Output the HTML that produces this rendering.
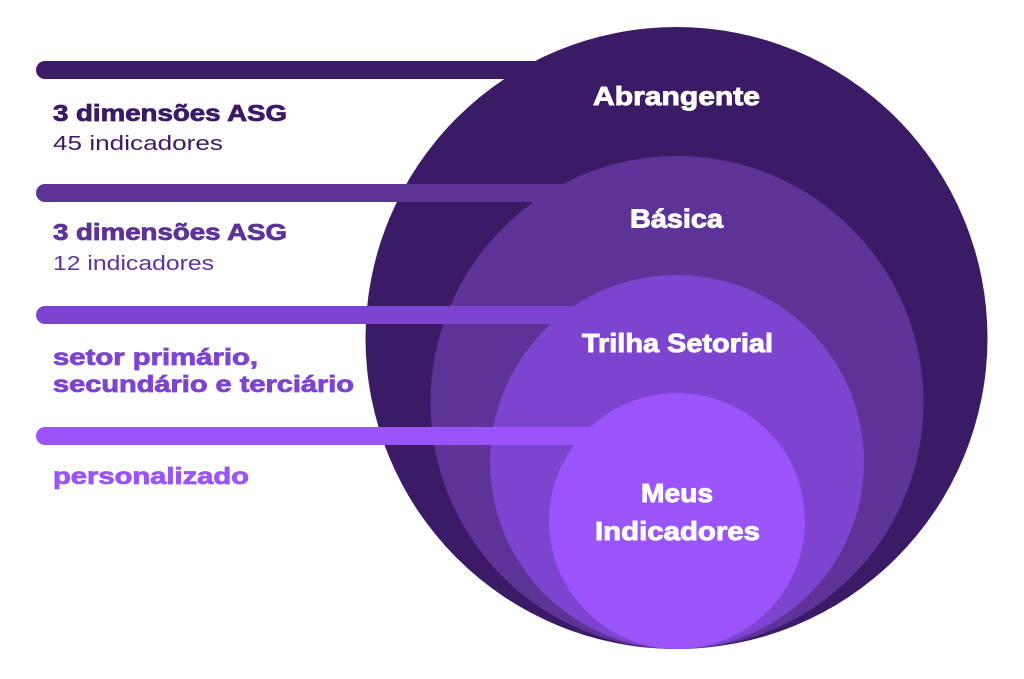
<!DOCTYPE html>
<html>
<head>
<meta charset="utf-8">
<style>
  html, body { margin: 0; padding: 0; background: #ffffff; }
  body { width: 1024px; height: 679px; overflow: hidden; }
  svg { display: block; }
  text { font-family: "Liberation Sans", Arial, sans-serif; }
</style>
</head>
<body>
<svg width="1024" height="679" viewBox="0 0 1024 679" xmlns="http://www.w3.org/2000/svg">
  <rect width="1024" height="679" fill="#ffffff"/>

  <!-- Outer circle + bar 1 -->
  <circle cx="676.5" cy="338" r="311" fill="#3b1a66"/>
  <rect x="36" y="61" width="620" height="18" rx="9" fill="#3b1a66"/>

  <!-- Second circle + bar 2 -->
  <circle cx="677" cy="402.5" r="246.5" fill="#5e3398"/>
  <rect x="36" y="184" width="620" height="18" rx="9" fill="#5e3398"/>

  <!-- Third circle + bar 3 -->
  <circle cx="677" cy="462" r="187" fill="#7d44cf"/>
  <rect x="36" y="306" width="620" height="18" rx="9" fill="#7d44cf"/>

  <!-- Fourth circle + bar 4 -->
  <circle cx="677" cy="521" r="128" fill="#9b54fa"/>
  <rect x="36" y="427" width="620" height="18" rx="9" fill="#9b54fa"/>

  <!-- Circle labels -->
  <g fill="#ffffff" stroke="#ffffff" stroke-width="0.9" font-weight="bold" font-size="26">
    <text x="593" y="105" textLength="167" lengthAdjust="spacingAndGlyphs">Abrangente</text>
    <text x="630" y="227.5" textLength="93" lengthAdjust="spacingAndGlyphs">Básica</text>
    <text x="582" y="352" textLength="191" lengthAdjust="spacingAndGlyphs">Trilha Setorial</text>
    <text x="641" y="502" textLength="72" lengthAdjust="spacingAndGlyphs">Meus</text>
    <text x="595" y="540" textLength="165" lengthAdjust="spacingAndGlyphs">Indicadores</text>
  </g>

  <!-- Left labels -->
  <text x="53" y="121" font-size="23" font-weight="bold" fill="#3b1a66" stroke="#3b1a66" stroke-width="0.8" textLength="234" lengthAdjust="spacingAndGlyphs">3 dimensões ASG</text>
  <text x="53" y="150" font-size="20" fill="#3b1a66" textLength="170" lengthAdjust="spacingAndGlyphs">45 indicadores</text>

  <text x="53" y="240" font-size="23" font-weight="bold" fill="#5e3398" stroke="#5e3398" stroke-width="0.8" textLength="234" lengthAdjust="spacingAndGlyphs">3 dimensões ASG</text>
  <text x="53" y="270" font-size="20" fill="#5e3398" textLength="161" lengthAdjust="spacingAndGlyphs">12 indicadores</text>

  <text x="53" y="365" font-size="23" font-weight="bold" fill="#7d44cf" stroke="#7d44cf" stroke-width="0.8" textLength="205" lengthAdjust="spacingAndGlyphs">setor primário,</text>
  <text x="53" y="392" font-size="23" font-weight="bold" fill="#7d44cf" stroke="#7d44cf" stroke-width="0.8" textLength="301" lengthAdjust="spacingAndGlyphs">secundário e terciário</text>

  <text x="53" y="484" font-size="23" font-weight="bold" fill="#9b54fa" stroke="#9b54fa" stroke-width="0.8" textLength="196" lengthAdjust="spacingAndGlyphs">personalizado</text>
</svg>
</body>
</html>
